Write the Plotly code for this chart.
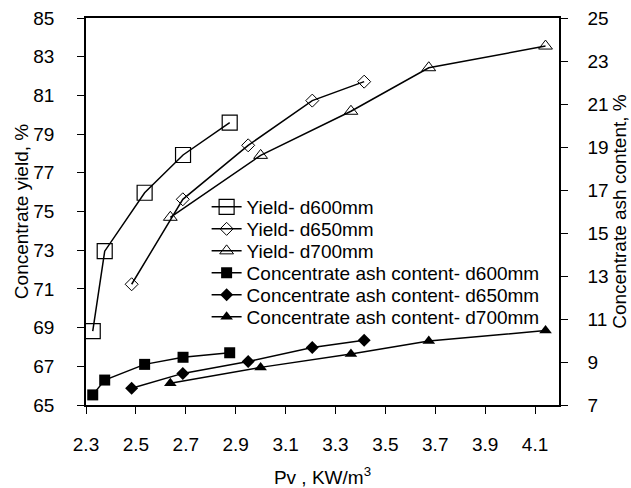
import plotly.graph_objects as go

# Data
pv_d600 = [2.327, 2.375, 2.535, 2.689, 2.876]
pv_d650 = [2.483, 2.688, 2.950, 3.207, 3.415]
pv_d700 = [2.638, 3.000, 3.362, 3.674, 4.142]

yield_d600 = [68.82, 72.95, 75.97, 77.92, 79.59]
yield_d650 = [71.24, 75.63, 78.42, 80.73, 81.71]
yield_d700 = [74.70, 77.90, 80.18, 82.43, 83.55]

ash_d600 = [7.47, 8.16, 8.89, 9.22, 9.43]
ash_d650 = [7.78, 8.47, 9.02, 9.67, 10.01]
ash_d700 = [8.01, 8.75, 9.37, 9.98, 10.46]

x_ticks = [2.3, 2.5, 2.7, 2.9, 3.1, 3.3, 3.5, 3.7, 3.9, 4.1]
y_ticks = list(range(65, 86, 2))
y2_ticks = list(range(7, 26, 2))

FONT = "Liberation Sans, Arial, sans-serif"
FS = 19
line = dict(color="black", width=1.5)

fig = go.Figure()
fig.add_trace(go.Scatter(x=pv_d600, y=yield_d600, name="Yield- d600mm", mode="lines+markers", legend="legend",
                         line=line, marker=dict(symbol="square-open", size=15, color="black", line=dict(width=1.2))))
fig.add_trace(go.Scatter(x=pv_d650, y=yield_d650, name="Yield- d650mm", mode="lines+markers", legend="legend2",
                         line=line, marker=dict(symbol="diamond-open", size=10, color="black", line=dict(width=1))))
fig.add_trace(go.Scatter(x=pv_d700, y=yield_d700, name="Yield- d700mm", mode="lines+markers", legend="legend3",
                         line=line, marker=dict(symbol="triangle-up-open", size=12, color="black", line=dict(width=1))))
fig.add_trace(go.Scatter(x=pv_d600, y=ash_d600, name="Concentrate ash content- d600mm", mode="lines+markers",
                         legend="legend4", yaxis="y2", line=line,
                         marker=dict(symbol="square", size=11, color="black")))
fig.add_trace(go.Scatter(x=pv_d650, y=ash_d650, name="Concentrate ash content- d650mm", mode="lines+markers",
                         legend="legend5", yaxis="y2", line=line,
                         marker=dict(symbol="diamond", size=10, color="black")))
fig.add_trace(go.Scatter(x=pv_d700, y=ash_d700, name="Concentrate ash content- d700mm", mode="lines+markers",
                         legend="legend6", yaxis="y2", line=line,
                         marker=dict(symbol="triangle-up", size=11, color="black")))

axis_common = dict(showgrid=False, zeroline=False, showline=True, linecolor="black", linewidth=1.5,
                   ticks="outside", ticklen=7, tickcolor="black", tickwidth=1.2, automargin=False,
                   tickfont=dict(family=FONT, size=FS, color="black"))

legend_rows_px = [207, 229, 251, 273, 295, 317]
plot_top, plot_h = 18, 387
legends = {}
for i, ry in enumerate(legend_rows_px):
    key = "legend" if i == 0 else f"legend{i + 1}"
    legends[key] = dict(x=0.255, y=1 - (ry - plot_top) / plot_h, xanchor="left", yanchor="middle",
                        bgcolor="rgba(0,0,0,0)", font=dict(family=FONT, size=FS, color="black"),
                        itemwidth=30)

fig.update_layout(
    width=631, height=488,
    margin=dict(l=86, r=72, t=18, b=83),
    paper_bgcolor="white", plot_bgcolor="white",
    font=dict(family=FONT, size=FS, color="black"),
    showlegend=True,
    xaxis=dict(range=[2.3, 4.196], tickvals=x_ticks, ticktext=[f"{v:.1f}" for v in x_ticks],
               mirror=True, ticklabelstandoff=14,
               title=dict(text="Pv , KW/m<sup>3</sup>", font=dict(family=FONT, size=FS), standoff=18),
               **axis_common),
    yaxis=dict(range=[65, 85], tickvals=y_ticks, ticklabelstandoff=19,
               title=dict(text="Concentrate yield, %", font=dict(family=FONT, size=FS), standoff=0),
               **axis_common),
    yaxis2=dict(range=[7, 25], tickvals=y2_ticks, overlaying="y", side="right", ticklabelstandoff=16,
                title=dict(text="Concentrate ash content, %", font=dict(family=FONT, size=FS), standoff=0),
                **axis_common),
    **legends,
)

fig.write_html("out.html", config={"displayModeBar": False},
               post_script="document.body.style.margin='0';")
